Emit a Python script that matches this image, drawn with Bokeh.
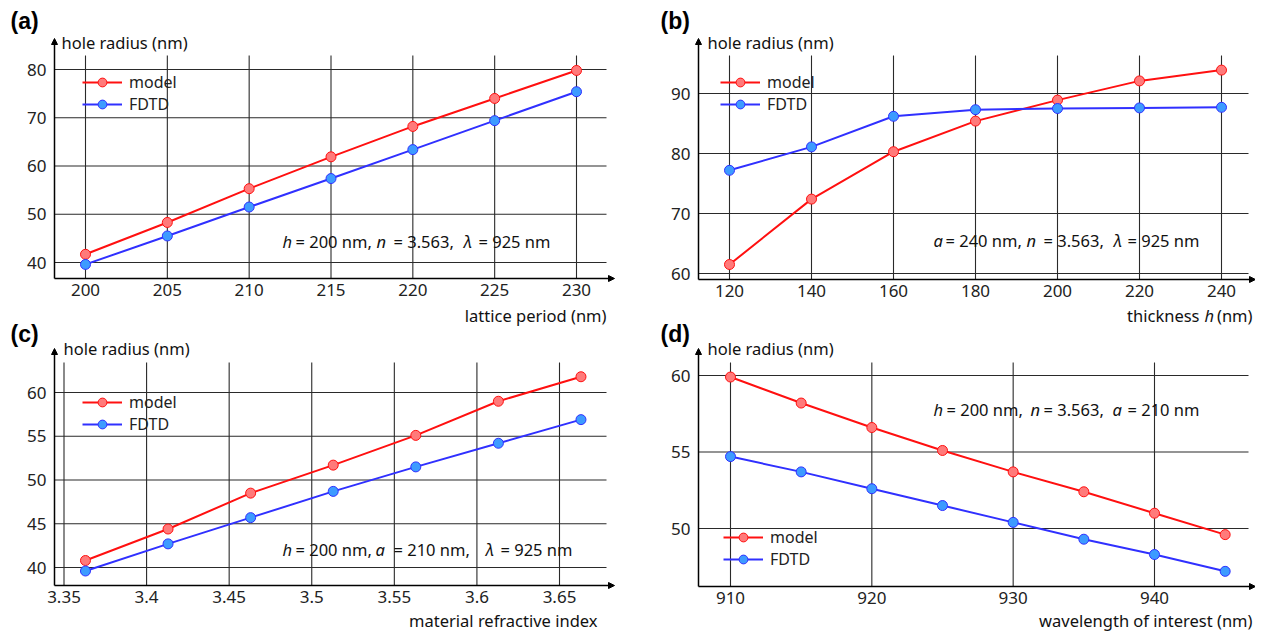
from bokeh.plotting import figure
from bokeh.layouts import row, column
from bokeh.models import Range1d, FixedTicker, Label, Arrow, NormalHead, Legend, LegendItem
from bokeh.embed import file_html
from bokeh.resources import INLINE

# ---------------- data ----------------
a_period = [200, 205, 210, 215, 220, 225, 230]
a_model = [41.7, 48.3, 55.3, 61.9, 68.2, 74.0, 79.8]
a_fdtd = [39.6, 45.5, 51.5, 57.4, 63.4, 69.4, 75.4]

b_thick = [120, 140, 160, 180, 200, 220, 240]
b_model = [61.5, 72.4, 80.3, 85.4, 88.9, 92.1, 93.9]
b_fdtd = [77.2, 81.1, 86.2, 87.3, 87.5, 87.6, 87.7]

c_index = [3.363, 3.413, 3.463, 3.513, 3.563, 3.613, 3.663]
c_model = [40.8, 44.4, 48.5, 51.7, 55.1, 59.0, 61.8]
c_fdtd = [39.6, 42.7, 45.7, 48.7, 51.5, 54.2, 56.9]

d_wl = [910, 915, 920, 925, 930, 935, 940, 945]
d_model = [59.9, 58.2, 56.6, 55.1, 53.7, 52.4, 51.0, 49.6]
d_fdtd = [54.7, 53.7, 52.6, 51.5, 50.4, 49.3, 48.3, 47.2]

a_xticks = [200, 205, 210, 215, 220, 225, 230]
a_yticks = [40, 50, 60, 70, 80]
b_xticks = [120, 140, 160, 180, 200, 220, 240]
b_yticks = [60, 70, 80, 90]
c_xticks = [3.35, 3.4, 3.45, 3.5, 3.55, 3.6, 3.65]
c_xlabels = ["3.35", "3.4", "3.45", "3.5", "3.55", "3.6", "3.65"]
c_yticks = [40, 45, 50, 55, 60]
d_xticks = [910, 920, 930, 940]
d_yticks = [50, 55, 60]

series_names = ["model", "FDTD"]
y_title = "hole radius (nm)"

# ---------------- style ----------------
FONT = "Noto Sans"
RED, RED_FILL = "#ff1010", "#ff7a7a"
BLUE, BLUE_FILL = "#3030ff", "#3d9bff"
GRID = "#2a2a2a"
ROW_SPLIT = 303     # page y where the upper figures end
PAGE_H = 635
COL_SPLIT = 638
PAGE_W = 1255


def make_panel(fx, fy, w, h, xcal, ycal, corner, grid_top, grid_right, tips,
               xticks, yticks, x, ym, yf, leg_left, leg_top, xlabels=None):
    # pixel -> data calibration from two reference ticks
    (xv1, xp1, xv2, xp2) = xcal
    (yv1, yp1, yv2, yp2) = ycal
    kx = (xv2 - xv1) / (xp2 - xp1)
    ky = (yv2 - yv1) / (yp1 - yp2)

    def dx(px):
        return xv1 + (px - xp1) * kx

    def dy(py):
        return yv1 + (yp1 - py) * ky

    xr = (dx(fx), dx(fx + w))
    yr = (dy(fy + h), dy(fy))
    p = figure(width=w, height=h, x_range=Range1d(*xr), y_range=Range1d(*yr),
               output_backend="svg", toolbar_location=None, min_border=0)
    p.outline_line_color = None
    p.background_fill_color = "white"
    p.border_fill_color = "white"
    p.grid.visible = False

    x0, y0 = dx(corner[0]), dy(corner[1])
    gt, gr = dy(grid_top), dx(grid_right)

    # grid lines drawn from the tick lists
    p.segment(x0=xticks, y0=[y0] * len(xticks), x1=xticks, y1=[gt] * len(xticks),
              line_color=GRID, line_width=1.1)
    p.segment(x0=[x0] * len(yticks), y0=yticks, x1=[gr] * len(yticks), y1=yticks,
              line_color=GRID, line_width=1.1)

    for ax, ticks in ((p.xaxis, xticks), (p.yaxis, yticks)):
        ax.ticker = FixedTicker(ticks=ticks)
        ax.major_tick_out = 0
        ax.major_tick_in = 0
        ax.minor_tick_out = 0
        ax.minor_tick_in = 0
        ax.axis_line_color = None
        ax.major_label_text_font = FONT
        ax.major_label_text_font_size = "17px"
        ax.major_label_text_color = "#222222"
    p.xaxis.fixed_location = y0
    p.yaxis.fixed_location = x0
    p.xaxis.major_label_standoff = 5
    p.yaxis.major_label_standoff = 8
    if xlabels is not None:
        p.xaxis.major_label_overrides = {t: s for t, s in zip(xticks, xlabels)}

    # axis lines with arrow heads
    head = dict(size=6, line_color="black", fill_color="black", line_width=1)
    p.add_layout(Arrow(x_start=x0, y_start=y0, x_end=x0, y_end=dy(tips[1]),
                       end=NormalHead(**head), line_color="black", line_width=1.5))
    p.add_layout(Arrow(x_start=x0, y_start=y0, x_end=dx(tips[0]), y_end=y0,
                       end=NormalHead(**head), line_color="black", line_width=1.5))

    r1 = p.line(x, ym, line_color=RED, line_width=2)
    s1 = p.scatter(x, ym, size=10, fill_color=RED_FILL, line_color=RED, line_width=1)
    r2 = p.line(x, yf, line_color=BLUE, line_width=2)
    s2 = p.scatter(x, yf, size=10, fill_color=BLUE_FILL, line_color=BLUE, line_width=1)

    leg = Legend(items=[LegendItem(label=series_names[0], renderers=[r1, s1]),
                        LegendItem(label=series_names[1], renderers=[r2, s2])],
                 location=(leg_left - fx, fy + h - (leg_top + 44)),
                 padding=0, margin=0, spacing=0, label_standoff=7,
                 glyph_width=40, glyph_height=22, label_height=22,
                 label_text_font=FONT, label_text_font_size="16px",
                 label_text_color="#222222",
                 background_fill_alpha=0, border_line_alpha=0)
    p.add_layout(leg)
    return p, dx, dy


def add_text(p, x, y, text, size="16.5px", italic=False, bold=False, align="left",
             font=FONT):
    style = "italic" if italic else ("bold" if bold else "normal")
    p.add_layout(Label(x=x, y=y, text=text, text_align=align, text_baseline="middle",
                       text_font=font, text_font_size=size, text_font_style=style,
                       text_color="black" if bold else "#111111"))


def add_pieces(p, dx, dy, pieces, ypx):
    for txt, it, px in pieces:
        add_text(p, dx(px), dy(ypx), txt, size="16.5px", italic=bool(it))


# ---------------- panel (a) ----------------
pa, ax_, ay_ = make_panel(0, 0, COL_SPLIT, ROW_SPLIT, (200, 85, 230, 576), (80, 69, 40, 262),
                          (54, 278), 55, 606, (614, 38),
                          a_xticks, a_yticks, a_period, a_model, a_fdtd, 82, 71)
add_text(pa, ax_(10), ay_(20), "(a)", size="23px", bold=True, font="Liberation Sans")
add_text(pa, ax_(61), ay_(42), y_title)
add_pieces(pa, ax_, ay_, [("h", 1, 282), ("= 200 nm,", 0, 295), ("n", 1, 376),
                          ("= 3.563,", 0, 393), ("λ", 1, 463), ("= 925 nm", 0, 478)], 241)

# ---------------- panel (b) ----------------
pb, bx_, by_ = make_panel(COL_SPLIT, 0, PAGE_W - COL_SPLIT, ROW_SPLIT,
                          (120, 729, 240, 1221), (90, 93, 60, 273),
                          (698, 279), 55, 1248, (1255, 38),
                          b_xticks, b_yticks, b_thick, b_model, b_fdtd, 720, 71)
add_text(pb, bx_(660), by_(20), "(b)", size="23px", bold=True, font="Liberation Sans")
add_text(pb, bx_(707), by_(42), y_title)
add_pieces(pb, bx_, by_, [("a", 1, 933), ("= 240 nm,", 0, 945), ("n", 1, 1026),
                          ("= 3.563,", 0, 1043), ("λ", 1, 1113), ("= 925 nm", 0, 1127)], 240)

# ---------------- panel (c) ----------------
pc, cx_, cy_ = make_panel(0, ROW_SPLIT, COL_SPLIT, PAGE_H - ROW_SPLIT,
                          (3.35, 63.5, 3.65, 559), (60, 392, 40, 567),
                          (54, 585), 362, 606, (614, 348),
                          c_xticks, c_yticks, c_index, c_model, c_fdtd, 82, 391,
                          xlabels=c_xlabels)
# x-axis title of panel (a) sits at the seam between the rows
add_text(pc, cx_(606), cy_(315), "lattice period (nm)", align="right")
add_text(pc, cx_(10), cy_(333), "(c)", size="23px", bold=True, font="Liberation Sans")
add_text(pc, cx_(63), cy_(348), y_title)
add_text(pc, cx_(597), cy_(620), "material refractive index", align="right")
add_pieces(pc, cx_, cy_, [("h", 1, 282), ("= 200 nm,", 0, 295), ("a", 1, 375),
                          ("= 210 nm,", 0, 393), ("λ", 1, 485), ("= 925 nm", 0, 500)], 549)

# ---------------- panel (d) ----------------
pd_, dx_, dy_ = make_panel(COL_SPLIT, ROW_SPLIT, PAGE_W - COL_SPLIT, PAGE_H - ROW_SPLIT,
                           (910, 730, 940, 1154), (60, 375, 50, 528),
                           (698, 586), 362, 1248, (1255, 348),
                           d_xticks, d_yticks, d_wl, d_model, d_fdtd, 723, 526)
# x-axis title of panel (b) sits at the seam between the rows
add_text(pd_, dx_(1252), dy_(315), "(nm)", align="right")
add_text(pd_, dx_(1204), dy_(315), "h", italic=True)
add_text(pd_, dx_(1199), dy_(315), "thickness", align="right")
add_text(pd_, dx_(660), dy_(333), "(d)", size="23px", bold=True, font="Liberation Sans")
add_text(pd_, dx_(707), dy_(348), y_title)
add_text(pd_, dx_(1252), dy_(620), "wavelength of interest (nm)", align="right")
add_pieces(pd_, dx_, dy_, [("h", 1, 933), ("= 200 nm,", 0, 946), ("n", 1, 1030),
                           ("= 3.563,", 0, 1043), ("a", 1, 1112), ("= 210 nm", 0, 1127)], 409)

layout = row(column(pa, pc, spacing=0), column(pb, pd_, spacing=0), spacing=0)
open("out.html", "w").write(file_html(layout, INLINE))
